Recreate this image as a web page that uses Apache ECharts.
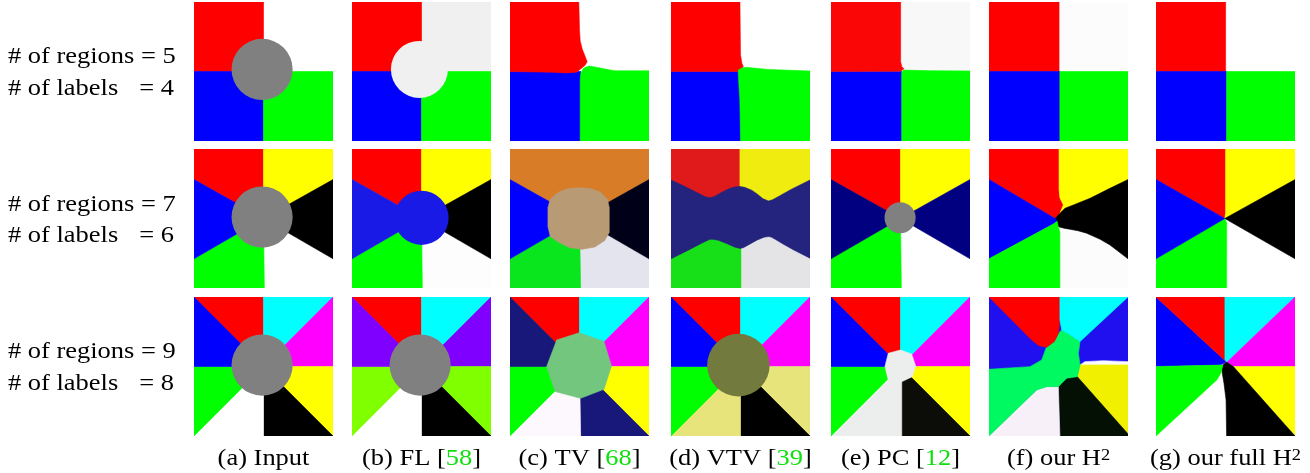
<!DOCTYPE html>
<html>
<head>
<meta charset="utf-8">
<script src="https://cdn.jsdelivr.net/npm/echarts@6/dist/echarts.min.js"></script>
<style>html,body{margin:0;padding:0;background:#fff;}#chart{width:1310px;height:473px;}</style>
</head>
<body>
<div id="chart"></div>
<script>
// ---------------- data ----------------
const REGION_COUNTS = [5, 7, 9];
const LABEL_COUNTS = [4, 6, 8];
const METHOD_NAMES = ['(a) Input', '(b) FL', '(c) TV', '(d) VTV', '(e) PC', '(f) our H{sup|2}', '(g) our full H{sup|2}'];
const METHOD_REFS = [null, '58', '68', '39', '12', null, null];

const PALETTE = {
  red:'#ff0000', blue:'#0000ff', green:'#00ff00', white:'#ffffff', gray:'#808080', yellow:'#ffff00',
  black:'#000000', cyan:'#00ffff', magenta:'#ff00ff',
  flGray:'#f0f0f0', flBlue:'#1a1ae6', flWhite:'#fdfdfd', flPurple:'#8000ff', flLime:'#80ff00',
  tvOrange:'#d97c28', tvBlack:'#000018', tvGreen:'#0ae61e', tvLav:'#e4e4ee', tvTan:'#b89a74',
  tvNavy:'#18187a', tvWhite:'#fdf8fd', tvCenter:'#72c67e',
  vRed:'#e01a1a', vYellow:'#f0ec10', vNavy:'#24247e', vGreen:'#18e018', vGray:'#e4e4e6', vKhaki:'#e8e47c', vOlive:'#737a3e',
  pRed:'#fa0606', pWhite:'#f8f8f8', pNavy:'#000080', pBlack:'#0c0c08', pGray:'#eceeed',
  hWhite:'#fcfcfc', hViolet:'#2010f0', hGreen:'#00f860', hLav:'#f8f0f8', hBlack:'#051005', hYellow:'#f0f000'
};

const FULL = [[0,0],[100,0],[100,100],[0,100]];

// Row 1 (5 regions / 4 labels)
const A1 = [['white',FULL],['red',[[0,0],[50,0],[50,50],[0,50]]],['blue',[[0,50],[50,50],[50,100],[0,100]]],['green',[[50,50],[100,50],[100,100],[50,100]]],['gray',{c:[49,48.5],r:22}]];
const B1 = [['flGray',FULL],['red',[[0,0],[50,0],[50,50],[0,50]]],['blue',[[0,50],[50,50],[50,100],[0,100]]],['green',[[50,50],[100,50],[100,100],[50,100]]],['flGray',{c:[48.5,48.5],r:20.5}]];
const C1 = [['white',FULL],['blue',[[0,50],[51,50],[51,100],[0,100]]],
  ['green',[[50.5,100],[50.5,56],[51,51],[53,47.5],[57,46],[65,47.5],[75,49.5],[100,49.5],[100,100]]],
  ['red',[[0,0],[49.5,0],[50,20],[50.5,28],[52,34],[54,39],[55.5,43],[54,45.5],[51,48],[48,50.5],[40,51],[30,50.5],[0,50]]]];
const D1 = [['white',FULL],['blue',[[0,50],[50.1,50],[50.1,100],[0,100]]],
  ['red',[[0,0],[49.6,0],[50,38],[51,44],[52,46.5],[50,48.5],[48,50],[0,50]]],
  ['green',[[50.1,100],[49.5,70],[48.4,52],[48.4,49],[51,47.5],[54,47],[70,48.5],[100,49.6],[100,100]]]];
const E1 = [['pWhite',FULL],['blue',[[0,50],[50.9,50],[50.9,100],[0,100]]],
  ['green',[[50.9,100],[50.9,51],[52,49],[70,49.4],[100,49.6],[100,100]]],
  ['pRed',[[0,0],[50.1,0],[50.1,43],[51,46.5],[52.5,48],[50,49.8],[0,50]]]];
const F1 = [['hWhite',FULL],['red',[[0,0],[50.4,0],[50.4,50],[0,50]]],['blue',[[0,50],[51,50],[51,100],[0,100]]],['green',[[51,50],[100,50],[100,100],[51,100]]]];
const G1 = [['white',FULL],['red',[[0,0],[50.1,0],[50.1,50],[0,50]]],['blue',[[0,50],[50.8,50],[50.8,100],[0,100]]],['green',[[50.8,50],[100,50],[100,100],[50.8,100]]]];

// Row 2 (7 regions / 6 labels)
const A2 = [['white',FULL],['red',[[0,0],[50,0],[50,50],[0,22]]],['yellow',[[50,0],[100,0],[100,22],[50,50]]],
  ['black',[[100,22],[100,79],[50,50]]],['green',[[0,79],[50,50],[50.6,100],[0,100]]],['blue',[[0,22],[50,50],[0,79]]],['gray',{c:[49,49],r:22}]];
const B2 = [['flWhite',FULL],['red',[[0,0],[50,0],[50,50],[0,22]]],['yellow',[[50,0],[100,0],[100,22],[50,50]]],
  ['black',[[100,22],[100,79],[50,50]]],['green',[[0,79],[50,50],[50.6,100],[0,100]]],['flBlue',[[0,22],[50,50],[0,79]]],['flBlue',{c:[50,49.5],r:19.5}]];
const C2 = [['tvOrange',[[0,0],[100,0],[100,22],[50,50],[0,22]]],['tvLav',[[100,79],[100,100],[50.8,100],[50,50]]],
  ['tvBlack',[[100,22],[100,79],[50,50]]],['tvGreen',[[0,79],[50,50],[50.8,100],[0,100]]],['blue',[[0,22],[50,50],[0,79]]],
  ['tvTan',[[29,36],[35,31],[42,28.5],[50,27.8],[58,28.5],[65,31],[70,36],[71.4,42],[71.4,60],[68,66],[61,70.5],[52,72.2],[43,71],[35,67],[29,63],[27.3,56],[27.3,42]]]];
const D2 = [['vRed',[[0,0],[49.6,0],[49.6,50],[0,50]]],['vYellow',[[49.6,0],[100,0],[100,50],[49.6,50]]],
  ['vGreen',[[0,50],[50.8,50],[50.8,100],[0,100]]],['vGray',[[50.8,50],[100,50],[100,100],[50.8,100]]],
  ['vNavy',[[0,22.3],[10,27],[20,32],[25,34.5],[28,35],[31,34.3],[36,31.5],[42,28.5],[46,27.3],[49.6,27],[53,27.6],[58,29.6],[62,32.4],[66,35.7],[70,37.4],[73,36.6],[78,33.8],[86,29.3],[100,22.3],
    [100,78.6],[88,72.5],[80,68],[75,65],[72,63.3],[70,63],[67,63.4],[62,65.5],[56,68.8],[52,71],[49.6,71.5],[46,70.6],[40,68],[34,65.6],[30,65],[28,65],[22,67.8],[12,73],[0,79]]]];
const E2 = [['white',FULL],['red',[[0,0],[50,0],[50,50],[0,22]]],['yellow',[[50,0],[100,0],[100,22],[50,50]]],
  ['pNavy',[[100,22],[100,79],[50,50]]],['green',[[0,79],[50,50],[50.6,100],[0,100]]],['pNavy',[[0,22],[50,50],[0,79]]],['gray',{c:[49.7,49.5],r:11.2}]];
const F2 = [['hWhite',FULL],
  ['red',[[0,0],[50.4,0],[50.4,29],[51,35],[53.5,40.3],[51,46.3],[47.5,50],[0,22]]],
  ['yellow',[[50.4,0],[100,0],[100,22],[87,28.3],[72.7,35.5],[60.7,40.3],[54.7,42.7],[51,46.3],[53.5,40.3],[51,35],[50.4,29]]],
  ['black',[[100,22],[87,28.3],[72.7,35.5],[60.7,40.3],[54.7,42.7],[51,46.3],[47.5,50],[49.9,55.9],[54,57],[58.3,57.8],[64,58.8],[70.3,60.6],[80,65],[87,69],[100,79]]],
  ['blue',[[0,22],[47.5,50],[49,52],[46.3,54],[0,79]]],
  ['green',[[0,79],[46.3,54],[49,52],[49.9,55.9],[51,60],[51,100],[0,100]]]];
const G2 = [['white',FULL],['red',[[0,0],[50.1,0],[50.1,46],[49.5,50],[0,22]]],['yellow',[[50.1,0],[100,0],[100,22],[49.5,50],[50.1,46]]],
  ['black',[[100,22],[100,79],[49.5,50]]],['green',[[0,79],[49.5,50],[50.8,53],[50.8,100],[0,100]]],['blue',[[0,22],[49.5,50],[0,79]]]];

// Row 3 (9 regions / 8 labels)
const A3 = [['red',[[0,0],[50,0],[50,50]]],['cyan',[[50,0],[100,0],[50,50]]],['magenta',[[100,0],[100,50],[50,50]]],['yellow',[[100,50],[100,100],[50,50]]],
  ['black',[[100,100],[50,100],[50,50]]],['white',[[50,100],[0,100],[50,50]]],['green',[[0,100],[0,50],[50,50]]],['blue',[[0,50],[0,0],[50,50]]],['gray',{c:[49,49],r:22}]];
const B3 = [['red',[[0,0],[50,0],[50,50]]],['cyan',[[50,0],[100,0],[50,50]]],['flPurple',[[100,0],[100,50],[50,50]]],['flLime',[[100,50],[100,100],[50,50]]],
  ['black',[[100,100],[50,100],[50,50]]],['white',[[50,100],[0,100],[50,50]]],['flLime',[[0,100],[0,50],[50,50]]],['flPurple',[[0,50],[0,0],[50,50]]],['gray',{c:[49,49],r:22}]];
const C3 = [['red',[[0,0],[50,0],[50,50]]],['cyan',[[50,0],[100,0],[50,50]]],['magenta',[[100,0],[100,50],[50,50]]],['yellow',[[100,50],[100,100],[50,50]]],
  ['tvNavy',[[100,100],[50.8,100],[50,50]]],['tvWhite',[[50.8,100],[0,100],[50,50]]],['green',[[0,100],[0,50],[50,50]]],['tvNavy',[[0,50],[0,0],[50,50]]],
  ['tvCenter',[[33.6,30.9],[49.9,25.7],[67.6,32],[73,49.6],[67.6,66.4],[50.8,72.9],[32.4,68],[26.4,50]]]];
const D3 = [['red',[[0,0],[50,0],[50,50]]],['cyan',[[50,0],[100,0],[50,50]]],['magenta',[[100,0],[100,50],[50,50]]],['vKhaki',[[100,50],[100,100],[50,50]]],
  ['black',[[100,100],[50,100],[50,50]]],['vKhaki',[[50,100],[0,100],[50,50]]],['green',[[0,100],[0,50],[50,50]]],['blue',[[0,50],[0,0],[50,50]]],['vOlive',{c:[48.5,49],r:22.5}]];
const E3 = [['red',[[0,0],[50,0],[50,50]]],['cyan',[[50,0],[100,0],[50,50]]],['magenta',[[100,0],[100,50],[50,50]]],['yellow',[[100,50],[100,100],[50,50]]],
  ['pBlack',[[100,100],[50,100],[50,50]]],['pGray',[[50,100],[0,100],[50,50]]],['green',[[0,100],[0,50],[50,50]]],['blue',[[0,50],[0,0],[50,50]]],
  ['pGray',[[1,100],[41.2,59.7],[38.8,50],[41.2,40.5],[50,38.1],[58,41],[60.9,49.6],[58.5,57.3],[50.9,60.9],[50.9,100]]]];
const F3 = [['hViolet',FULL],
  ['hWhite',[[65.5,48.9],[69,46.5],[82.2,45.8],[100,46.5],[100,50],[65.5,50]]],
  ['hYellow',[[65.5,48.9],[100,48.9],[100,98.5],[63.5,57.3]]],
  ['hBlack',[[63.5,57.3],[100,98.5],[100,100],[51,100],[49.9,64.5],[55.9,58.5]]],
  ['hLav',[[0,100],[34.3,66.9],[41.5,64.5],[49.9,64.5],[51,100]]],
  ['hGreen',[[0,52],[29.5,50.1],[37.9,45.3],[41,36.9],[41.5,36.2],[47,32],[50,26],[52.3,23.7],[58,27],[65.5,32.1],[64.3,40.5],[65.5,48.9],[63.5,57.3],[55.9,58.5],[49.9,64.5],[41.5,64.5],[34.3,66.9],[0,100]]],
  ['red',[[0,0],[51,0],[51,16.5],[50,26],[47,32],[41.5,36.2],[36,35],[30.7,31]]],
  ['cyan',[[51,0],[100,0],[65.5,32.1],[58,27],[52.3,23.7],[51,16.5]]]];
const G3 = [['white',FULL],
  ['blue',[[0,0],[51,47],[46,49],[0,50]]],
  ['red',[[0,0],[49.6,0],[49.6,45],[51,47]]],
  ['cyan',[[49.6,0],[100,0],[51,47],[49.6,45]]],
  ['magenta',[[100,0],[100,50],[55.6,50],[51,47]]],
  ['yellow',[[100,50],[100,100],[55.6,50]]],
  ['black',[[51,47],[55.6,50],[100,100],[50.8,100],[50.4,74],[48.9,62],[47.3,52.5],[48,49]]],
  ['green',[[0,50],[46,49],[48,49],[47.3,52.5],[46.5,55],[43.7,59.7],[0,100]]]];

const PANELS = [
  [A1, B1, C1, D1, E1, F1, G1],
  [A2, B2, C2, D2, E2, F2, G2],
  [A3, B3, C3, D3, E3, F3, G3]
];

// ---------------- layout ----------------
const COL_X = [194, 352, 510, 671, 831, 989, 1156];
const ROW_Y = [2, 149, 297];
const SIZE = 139;
const FONT = '"Liberation Serif", "Times New Roman", serif';
const FS = 23;
const SX = 1.15;

const grid = [], xAxis = [], yAxis = [], series = [];
PANELS.forEach((row, r) => {
  row.forEach((panel, c) => {
    const idx = grid.length;
    grid.push({left: COL_X[c], top: ROW_Y[r], width: SIZE, height: SIZE, show: false});
    xAxis.push({type: 'value', gridIndex: idx, min: 0, max: 100, show: false});
    yAxis.push({type: 'value', gridIndex: idx, min: 0, max: 100, inverse: true, show: false});
    series.push({
      type: 'custom', xAxisIndex: idx, yAxisIndex: idx, clip: true, silent: true,
      data: panel.map(() => [50, 50]),
      renderItem: function (params, api) {
        const reg = panel[params.dataIndex];
        const color = PALETTE[reg[0]];
        const geo = reg[1];
        if (Array.isArray(geo)) {
          return {type: 'polygon', shape: {points: geo.map(p => api.coord(p))},
            style: {fill: color, stroke: color, lineWidth: 0.6}};
        }
        const cc = api.coord(geo.c);
        const rr = api.size([geo.r, 0])[0];
        return {type: 'circle', shape: {cx: cc[0], cy: cc[1], r: rr}, style: {fill: color}};
      }
    });
  });
});

const graphic = [];
const REG_BASE = [64, 211.7, 359];
const LAB_BASE = [95.7, 243, 390.7];
REGION_COUNTS.forEach((n, r) => {
  graphic.push({type: 'text', x: 8, y: REG_BASE[r] - 7, scaleX: SX,
    style: {text: '# of regions = ' + n, font: FS + 'px ' + FONT, fill: '#000', align: 'left', verticalAlign: 'middle'}});
  graphic.push({type: 'text', x: 8, y: LAB_BASE[r] - 7, scaleX: SX,
    style: {text: '# of labels', font: FS + 'px ' + FONT, fill: '#000', align: 'left', verticalAlign: 'middle'}});
  graphic.push({type: 'text', x: 174, y: LAB_BASE[r] - 7, scaleX: SX,
    style: {text: '= ' + LABEL_COUNTS[r], font: FS + 'px ' + FONT, fill: '#000', align: 'right', verticalAlign: 'middle'}});
});
METHOD_NAMES.forEach((name, c) => {
  const ref = METHOD_REFS[c];
  graphic.push({type: 'text', x: COL_X[c] + SIZE / 2, y: 466 - 7, scaleX: SX,
    style: {text: name + (ref ? ' [{g|' + ref + '}]' : ''), font: FS + 'px ' + FONT, fill: '#000',
      align: 'center', verticalAlign: 'middle',
      rich: {
        g: {fill: '#10e010', fontSize: FS, fontFamily: FONT},
        sup: {fill: '#000', fontSize: 16, fontFamily: FONT, lineHeight: 12, verticalAlign: 'top'}
      }}});
});

const chart = echarts.init(document.getElementById('chart'), null, {renderer: 'canvas'});
chart.setOption({animation: false, grid, xAxis, yAxis, series, graphic});
</script>
</body>
</html>
